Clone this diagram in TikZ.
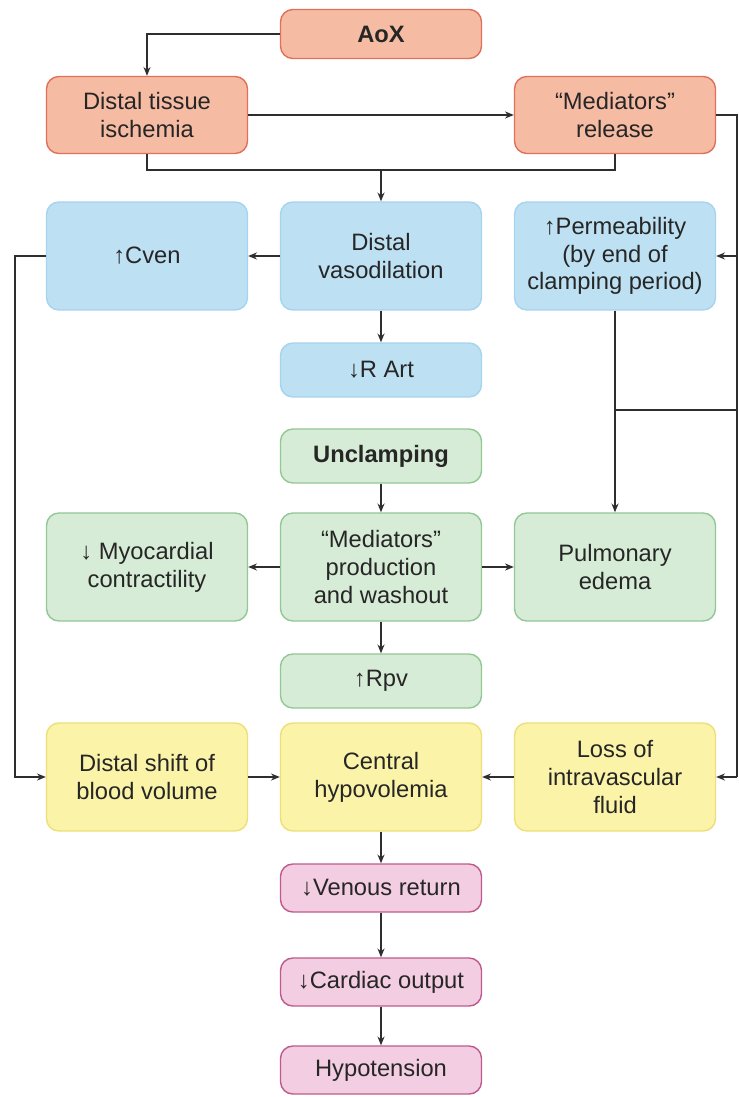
\documentclass[tikz,border=0pt]{standalone}
\usepackage{fontspec}
\setmainfont{Liberation Sans}
\usetikzlibrary{arrows.meta, positioning}
\usepackage{xcolor}

\definecolor{redfill}{HTML}{F6BBA3}
\definecolor{redline}{HTML}{E0705C}
\definecolor{bluefill}{HTML}{BDE0F3}
\definecolor{blueline}{HTML}{A6D3EE}
\definecolor{greenfill}{HTML}{D6ECD6}
\definecolor{greenline}{HTML}{93C795}
\definecolor{yellowfill}{HTML}{FBF3A8}
\definecolor{yellowline}{HTML}{EEDF78}
\definecolor{pinkfill}{HTML}{F3CDE1}
\definecolor{pinkline}{HTML}{BF5A8E}
\definecolor{ink}{HTML}{262626}
\definecolor{wire}{HTML}{2E2E2E}

\tikzset{
  box/.style={rounded corners=7pt, line width=0.8pt, minimum width=4.02cm,
    align=center, text=ink, inner sep=2pt, font=\fontsize{13.5}{15.8}\selectfont},
  redbox/.style={box, draw=redline, fill=redfill},
  bluebox/.style={box, draw=blueline, fill=bluefill},
  greenbox/.style={box, draw=greenline, fill=greenfill},
  yellowbox/.style={box, draw=yellowline, fill=yellowfill},
  pinkbox/.style={box, draw=pinkline, fill=pinkfill},
  tall/.style={minimum height=2.16cm},
  flat/.style={minimum height=1.08cm},
  arr/.style={draw=wire, line width=0.7pt, -{Stealth[length=5pt, width=4pt]}},
  wireline/.style={draw=wire, line width=0.7pt}
}

\begin{document}
\begin{tikzpicture}[x=0.02cm, y=-0.02cm]

\useasboundingbox[fill=white] (0,0) rectangle (739,1097);

% -------- Clamping: red row --------
\node[redbox, minimum height=0.98cm, font=\fontsize{13.5}{15.8}\selectfont\bfseries] (aox) at (381,34) {AoX};
\node[redbox, minimum height=1.54cm] (ischemia) at (147,115) {Distal tissue\\ischemia};
\node[redbox, minimum height=1.54cm] (medrel) at (615,115) {“Mediators”\\release};

% -------- Blue row --------
\node[bluebox, tall] (cven) at (147,256) {↑Cven};
\node[bluebox, tall] (vasodil) at (381,256) {Distal\\vasodilation};
\node[bluebox, tall] (perm) at (615,256) {↑Permeability\\(by end of\\clamping period)};
\node[bluebox, flat] (rart) at (381,370) {↓R Art};

% -------- Unclamping: green rows --------
\node[greenbox, flat, font=\fontsize{13.5}{15.8}\selectfont\bfseries] (unclamp) at (381,456) {Unclamping};
\node[greenbox, tall] (myo) at (147,567) {↓ Myocardial\\contractility};
\node[greenbox, tall] (medprod) at (381,567) {“Mediators”\\production\\and washout};
\node[greenbox, tall] (edema) at (615,567) {Pulmonary\\edema};
\node[greenbox, flat] (rpv) at (381,681) {↑Rpv};

% -------- Yellow row --------
\node[yellowbox, tall] (shift) at (147,777) {Distal shift of\\blood volume};
\node[yellowbox, tall] (hypovol) at (381,777) {Central\\hypovolemia};
\node[yellowbox, tall] (fluid) at (615,777) {Loss of\\intravascular\\fluid};

% -------- Pink column --------
\node[pinkbox, minimum height=0.96cm] (venous) at (381,888) {↓Venous return};
\node[pinkbox, minimum height=0.96cm] (cardiac) at (381,982) {↓Cardiac output};
\node[pinkbox, minimum height=0.96cm] (hypotens) at (381,1070) {Hypotension};

% -------- Connectors --------
\coordinate (split) at (381,170);
\coordinate (rtop) at (737,115);
\coordinate (rmid) at (737,410);
\coordinate (rbot) at (737,777);
\coordinate (lside) at (15,256);

\draw[arr] (aox.west) -| (ischemia.north);
\draw[arr] (ischemia.east) -- (medrel.west);
\draw[wireline] (ischemia.south) |- (split) -| (medrel.south);
\draw[arr] (split) -- (vasodil.north);

\draw[wireline] (medrel.east) -- (rtop) -- (rbot);
\draw[arr] (rtop |- perm.east) -- (perm.east);
\draw[wireline] (rmid) -- (perm.south |- rmid);
\draw[arr] (perm.south) -- (edema.north);
\draw[arr] (rbot) -- (fluid.east);

\draw[arr] (vasodil.west) -- (cven.east);
\draw[arr] (vasodil.south) -- (rart.north);
\draw[arr] (cven.west) -- (lside) |- (shift.west);

\draw[arr] (unclamp.south) -- (medprod.north);
\draw[arr] (medprod.west) -- (myo.east);
\draw[arr] (medprod.east) -- (edema.west);
\draw[arr] (medprod.south) -- (rpv.north);

\draw[arr] (shift.east) -- (hypovol.west);
\draw[arr] (fluid.west) -- (hypovol.east);
\draw[arr] (hypovol.south) -- (venous.north);
\draw[arr] (venous.south) -- (cardiac.north);
\draw[arr] (cardiac.south) -- (hypotens.north);

\end{tikzpicture}
\end{document}
